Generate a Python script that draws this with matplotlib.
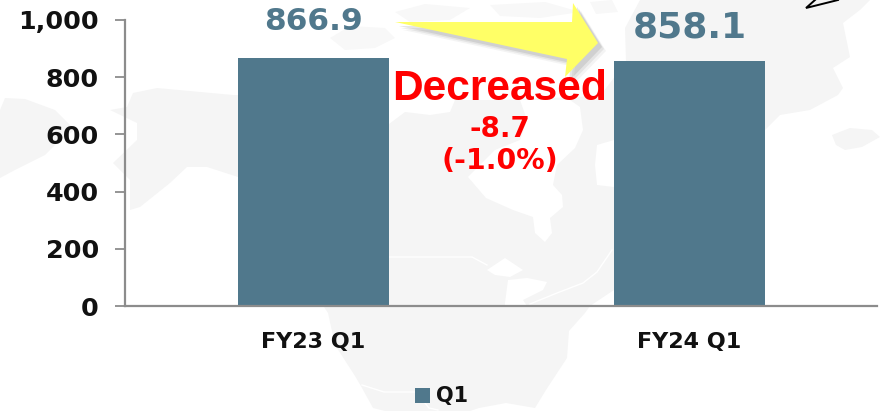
import matplotlib
matplotlib.use('Agg')
import matplotlib.pyplot as plt
from matplotlib.patches import Polygon

W, H = 895, 411

categories = ['FY23 Q1', 'FY24 Q1']
q1_values = [866.9, 858.1]
value_labels = ['866.9', '858.1']
y_ticks = [0, 200, 400, 600, 800, 1000]
y_tick_labels = ['0', '200', '400', '600', '800', '1,000']
legend_name = 'Q1'
change_word = 'Decreased'
change_value = '-8.7'
change_pct = '(-1.0%)'

BAR = '#50788c'
MAP = '#f5f5f5'
AXIS = '#8c8c8c'

# faint world map behind the chart, in pixels of the picture
land_main = [(110, 110), (127, 107), (133, 93), (157, 88), (233, 95), (300, 96), (389, 100),
             (500, 100), (600, 96), (626, 62), (625, 28), (640, 0), (870, 0), (860, 10), (843, 23),
             (850, 57), (833, 68), (843, 88), (838, 95), (810, 110), (780, 115), (765, 130),
             (700, 210), (614, 290), (590, 306), (585, 313), (569, 331), (567, 358), (546, 390),
             (535, 408), (506, 403), (479, 408), (470, 411), (385, 411), (373, 408), (362, 388),
             (355, 376), (335, 345), (328, 313), (238, 177), (207, 167), (187, 167), (170, 183),
             (140, 207), (130, 210), (130, 180), (113, 163), (137, 140), (137, 123)]
land_west = [(0, 110), (5, 98), (25, 99), (55, 110), (75, 130), (60, 140), (45, 155), (15, 170), (0, 178)]
land_iceland = [(832, 135), (850, 128), (872, 130), (880, 137), (862, 147), (845, 150), (836, 145)]
arctic = [[(330, 38), (350, 26), (385, 28), (395, 38), (375, 48), (345, 50)],
          [(395, 12), (425, 4), (470, 8), (450, 20), (410, 22)],
          [(490, 5), (545, 2), (580, 12), (540, 18), (500, 16)],
          [(590, 2), (612, 0), (618, 12), (596, 14)]]
water = [[(468, 177), (486, 198), (513, 210), (533, 217), (535, 233), (545, 242), (552, 233), (550, 218),
          (563, 207), (562, 195), (553, 185), (557, 165), (575, 148), (583, 130), (580, 107), (570, 100),
          (520, 100), (527, 120), (520, 140), (495, 150), (480, 165)],
         [(597, 145), (614, 140), (614, 187), (597, 185), (595, 165)],
         [(389, 100), (389, 124), (405, 112), (430, 115), (450, 112), (455, 100)],
         [(487, 270), (505, 258), (523, 270), (510, 277), (495, 275)],
         [(505, 303), (508, 280), (527, 278), (547, 282), (543, 290), (523, 300), (527, 306), (505, 306)]]
# borders and the river drawn as thin white lines
white_lines = [[(389, 257), (472, 257), (487, 265)],
               [(362, 385), (384, 392), (416, 392), (429, 408), (438, 410)],
               [(530, 304), (557, 293), (583, 283), (597, 272), (612, 250)]]

fig = plt.figure(figsize=(W / 100, H / 100), dpi=100, facecolor='white')

bg = fig.add_axes([0, 0, 1, 1])
bg.set_xlim(0, W)
bg.set_ylim(H, 0)
bg.axis('off')
for pts in [land_main, land_west, land_iceland]:
    bg.add_patch(Polygon(pts, closed=True, fc=MAP, ec='none'))
for pts in arctic:
    bg.add_patch(Polygon(pts, closed=True, fc='#f8f8f8', ec='none'))
for pts in water:
    bg.add_patch(Polygon(pts, closed=True, fc='white', ec='none'))
for pts in white_lines:
    bg.plot([p[0] for p in pts], [p[1] for p in pts], color='white', lw=1)

ax = fig.add_axes([125.5 / W, 1 - 306 / H, 752 / W, 286 / H])
ax.patch.set_alpha(0)
x_pos = list(range(len(categories)))
ax.bar(x_pos, q1_values, width=0.4, color=BAR, zorder=2)
ax.set_xlim(-0.5, 1.5)
ax.set_ylim(0, 1000)
ax.set_xticks(x_pos)
ax.set_xticklabels(categories, fontsize=16, fontweight='bold', color='#111111')
ax.set_yticks(y_ticks)
ax.set_yticklabels(y_tick_labels, fontsize=18.3, fontweight='bold', color='#111111')
ax.tick_params(axis='y', length=7.2, width=1.3, color=AXIS, pad=12)
ax.tick_params(axis='x', length=0, pad=19)
for s in ['top', 'right']:
    ax.spines[s].set_visible(False)
for s in ['left', 'bottom']:
    ax.spines[s].set_color(AXIS)
    ax.spines[s].set_linewidth(1.6)

# overlay in pixels again, on top of the bars
top = fig.add_axes([0, 0, 1, 1])
top.set_xlim(0, W)
top.set_ylim(H, 0)
top.axis('off')

arrow = [(395, 22), (572, 22), (573, 3), (598, 43), (565, 77), (567, 59)]
# soft shadow from a few see-through copies
for off, a in [(8, 0.08), (6, 0.12), (4, 0.18)]:
    top.add_patch(Polygon([(x + off, y + off) for x, y in arrow], closed=True, fc='#777777', ec='none', alpha=a))
top.add_patch(Polygon(arrow, closed=True, fc='#ffff66', ec='none'))

top.text(313.5, 22, value_labels[0], fontsize=22.5, fontweight='bold', color=BAR, ha='center', va='center')
top.text(689.5, 28, value_labels[1], fontsize=25.9, fontweight='bold', color=BAR, ha='center', va='center')
top.text(500, 89, change_word, fontsize=30.6, fontweight='bold', color='#ff0000', ha='center', va='center',
         family='Liberation Sans')
top.text(500, 129, change_value, fontsize=20, fontweight='bold', color='#ff0000', ha='center', va='center')
top.text(500, 161, change_pct, fontsize=20.4, fontweight='bold', color='#ff0000', ha='center', va='center')

# small black callout tip in the top right corner
top.plot([838, 806, 815], [0, 8, 0], color='black', lw=1.4, solid_joinstyle='miter')

# legend
top.add_patch(Polygon([(415, 388), (430, 388), (430, 403), (415, 403)], closed=True, fc=BAR, ec='none'))
top.text(436, 396, legend_name, fontsize=15, fontweight='bold', color='#111111', ha='left', va='center')

fig.savefig('out.png', dpi=100)
